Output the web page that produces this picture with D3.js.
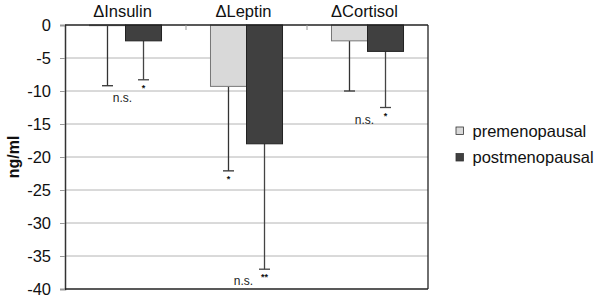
<!DOCTYPE html>
<html>
<head>
<meta charset="utf-8">
<script src="https://cdn.jsdelivr.net/npm/d3@7"></script>
<style>
  body { margin: 0; background: #fff; }
  svg { font-family: "Liberation Sans", Arial, sans-serif; }
</style>
</head>
<body>
<div id="chart"></div>
<script>
// valores (ng/ml)
const categories = ["\u0394Insulin", "\u0394Leptin", "\u0394Cortisol"];
const groups = ["premenopausal", "postmenopausal"];
const preValues = [-0.1, -9.3, -2.4];
const postValues = [-2.4, -18.0, -4.0];
const preErr = [9.1, 12.8, 7.6];
const postErr = [5.9, 19.0, 8.5];
const preSig = ["", "*", ""];
const postSig = ["*", "**", "*"];
const pairSig = ["n.s.", "n.s.", "n.s."];
const yTicks = [0, -5, -10, -15, -20, -25, -30, -35, -40];

const width = 600, height = 303;
const margin = { top: 25, left: 65, right: 172, bottom: 14 };
const colors = { premenopausal: "#d9d9d9", postmenopausal: "#404040" };
const strokes = { premenopausal: "#777", postmenopausal: "#222" };

const svg = d3.select("#chart").append("svg")
  .attr("width", width)
  .attr("height", height);

const x0 = d3.scaleBand()
  .domain(categories)
  .range([margin.left, width - margin.right])
  .paddingInner(0)
  .paddingOuter(0);

const x1 = d3.scaleBand()
  .domain(groups)
  .range([0, x0.bandwidth()])
  .paddingOuter(0.68)
  .paddingInner(0);

const y = d3.scaleLinear()
  .domain([0, -40])
  .range([margin.top, height - margin.bottom]);

// linhas de grade
svg.append("g")
  .selectAll("line")
  .data(yTicks.slice(1, -1))
  .join("line")
  .attr("x1", margin.left)
  .attr("x2", width - margin.right)
  .attr("y1", d => y(d))
  .attr("y2", d => y(d))
  .attr("stroke", "#b4b4b4")
  .attr("stroke-width", 1);

// eixo y
const yAxis = svg.append("g")
  .attr("transform", `translate(${margin.left},0)`)
  .call(d3.axisLeft(y).tickValues(yTicks).tickSize(5).tickPadding(9).tickFormat(d => String(d)));
yAxis.select(".domain").attr("stroke", "#333").attr("stroke-width", 1.5);
yAxis.selectAll(".tick line").attr("stroke", "#999");
yAxis.selectAll("text")
  .attr("font-size", 16.5)
  .attr("fill", "#111")
  .attr("font-family", "Liberation Sans, Arial, sans-serif");

// borda direita e linha de baixo
svg.append("line")
  .attr("x1", width - margin.right).attr("x2", width - margin.right)
  .attr("y1", y(0)).attr("y2", y(-40))
  .attr("stroke", "#222").attr("stroke-width", 1.3);
svg.append("line")
  .attr("x1", margin.left).attr("x2", width - margin.right)
  .attr("y1", y(-40)).attr("y2", y(-40))
  .attr("stroke", "#222").attr("stroke-width", 1.5);

// dados em formato de tabela
const table = categories.map((c, i) => ({
  cat: c,
  pairSig: pairSig[i],
  bars: [
    { group: "premenopausal", value: preValues[i], err: preErr[i], sig: preSig[i] },
    { group: "postmenopausal", value: postValues[i], err: postErr[i], sig: postSig[i] }
  ]
}));

const cat = svg.append("g")
  .selectAll("g")
  .data(table)
  .join("g")
  .attr("transform", d => `translate(${x0(d.cat)},0)`);

// barras de erro
cat.selectAll("g.err")
  .data(d => d.bars)
  .join("g")
  .attr("class", "err")
  .each(function(d) {
    const g = d3.select(this);
    const cx = x1(d.group) + x1.bandwidth() / 2;
    const c = d.group === "premenopausal" ? "#333" : "#444";
    g.append("line")
      .attr("x1", cx).attr("x2", cx)
      .attr("y1", y(d.value)).attr("y2", y(d.value - d.err))
      .attr("stroke", c).attr("stroke-width", 1.3);
    g.append("line")
      .attr("x1", cx - 5.5).attr("x2", cx + 5.5)
      .attr("y1", y(d.value - d.err)).attr("y2", y(d.value - d.err))
      .attr("stroke", c).attr("stroke-width", 1.3);
    if (d.sig) {
      g.append("text")
        .attr("x", cx)
        .attr("y", y(d.value - d.err) + 11)
        .attr("text-anchor", "middle")
        .attr("font-size", 9)
        .attr("font-weight", "bold")
        .attr("fill", "#111")
        .text(d.sig);
    }
  });

// barras
cat.selectAll("rect")
  .data(d => d.bars)
  .join("rect")
  .attr("x", d => x1(d.group))
  .attr("y", y(0))
  .attr("width", x1.bandwidth())
  .attr("height", d => y(d.value) - y(0))
  .attr("fill", d => colors[d.group])
  .attr("stroke", d => strokes[d.group])
  .attr("stroke-width", 1);

// n.s.
cat.append("text")
  .attr("x", x0.bandwidth() / 2 - 3)
  .attr("y", d => d3.max(d.bars, b => y(b.value - b.err)) + 16)
  .attr("text-anchor", "middle")
  .attr("font-size", 12)
  .attr("fill", "#222")
  .text(d => d.pairSig);

// eixo zero (topo) com marcas
svg.append("line")
  .attr("x1", margin.left).attr("x2", width - margin.right)
  .attr("y1", y(0)).attr("y2", y(0))
  .attr("stroke", "#222").attr("stroke-width", 1.5);
svg.append("g")
  .selectAll("line")
  .data(categories.slice(1))
  .join("line")
  .attr("x1", d => x0(d)).attr("x2", d => x0(d))
  .attr("y1", y(0)).attr("y2", y(0) + 5)
  .attr("stroke", "#999");

// títulos das categorias
svg.append("g")
  .selectAll("text")
  .data(categories)
  .join("text")
  .attr("x", d => x0(d) + x0.bandwidth() / 2 - 3)
  .attr("y", 17)
  .attr("text-anchor", "middle")
  .attr("font-size", 16.5)
  .attr("fill", "#111")
  .text(d => d);

// rótulo do eixo y
svg.append("text")
  .attr("transform", `translate(19,${(y(0) + y(-40)) / 2}) rotate(-90)`)
  .attr("text-anchor", "middle")
  .attr("font-size", 16)
  .attr("font-weight", "bold")
  .attr("fill", "#111")
  .text("ng/ml");

// legenda
const legend = svg.append("g")
  .attr("transform", "translate(456,127)");
const li = legend.selectAll("g")
  .data(groups)
  .join("g")
  .attr("transform", (d, i) => `translate(0,${i * 26.5})`);
li.append("rect")
  .attr("width", 7.5).attr("height", 7.5)
  .attr("fill", d => colors[d])
  .attr("stroke", "#333").attr("stroke-width", 0.8);
li.append("text")
  .attr("x", 16.5)
  .attr("y", 9.5)
  .attr("font-size", 16.5)
  .attr("fill", "#111")
  .text(d => d);
</script>
</body>
</html>
